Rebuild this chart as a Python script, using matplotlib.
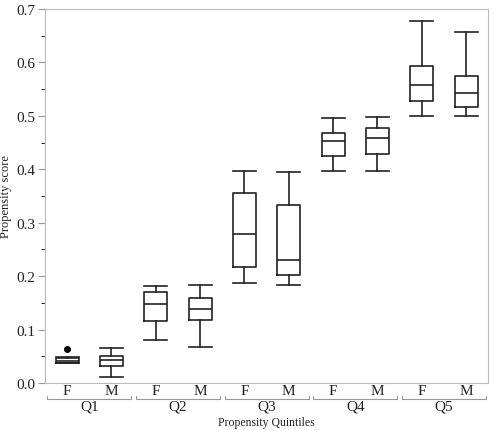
import numpy as np
import matplotlib
matplotlib.use('Agg')
import matplotlib.pyplot as plt
from matplotlib.lines import Line2D
from matplotlib.ticker import MultipleLocator

plt.rcParams['font.family'] = ['Liberation Serif', 'DejaVu Serif']

quintiles = ['Q1', 'Q2', 'Q3', 'Q4', 'Q5']
sexes = ['F', 'M']

# box stats per box, order Q1F, Q1M, Q2F, ...
whis_lo = [0.037, 0.012, 0.080, 0.068, 0.188, 0.184, 0.396, 0.396, 0.500, 0.500]
q1_vals = [0.038, 0.031, 0.116, 0.118, 0.217, 0.202, 0.424, 0.428, 0.528, 0.517]
medians = [0.041, 0.043, 0.147, 0.138, 0.278, 0.231, 0.453, 0.459, 0.557, 0.543]
q3_vals = [0.047, 0.050, 0.170, 0.159, 0.356, 0.333, 0.467, 0.478, 0.594, 0.575]
whis_hi = [0.048, 0.066, 0.181, 0.183, 0.396, 0.394, 0.496, 0.498, 0.677, 0.657]
outliers = [[0.064], [], [], [], [], [], [], [], [], []]

stats = []
for i in range(len(medians)):
    stats.append(dict(whislo=whis_lo[i], q1=q1_vals[i], med=medians[i],
                      q3=q3_vals[i], whishi=whis_hi[i], fliers=outliers[i]))

fig = plt.figure(figsize=(4.93, 4.31), dpi=100)
ax = fig.add_axes([0.0913, 0.109, 0.899, 0.868])

pos = np.arange(1, len(stats) + 1)
lc = '#222222'
ax.bxp(stats, positions=pos, widths=0.52, showfliers=True,
       boxprops=dict(color=lc, linewidth=1.2),
       medianprops=dict(color=lc, linewidth=1.2),
       whiskerprops=dict(color=lc, linewidth=1.2),
       capprops=dict(color=lc, linewidth=1.2),
       capwidths=0.52,
       flierprops=dict(marker='o', markerfacecolor='black', markeredgecolor='black', markersize=4))

ax.set_xlim(0.5, 10.5)
ax.set_ylim(0, 0.7)
ax.yaxis.set_major_locator(MultipleLocator(0.1))
ax.yaxis.set_minor_locator(MultipleLocator(0.05))
ax.set_yticklabels([f'{v:.1f}' for v in ax.get_yticks()])
ax.set_xticks(pos)
ax.set_xticklabels(sexes * len(quintiles))
ax.tick_params(axis='both', labelsize=11, colors='#999999', labelcolor='#222222')
ax.tick_params(axis='x', length=0, pad=1)
ax.tick_params(axis='y', which='major', length=5, pad=2)
ax.tick_params(axis='y', which='minor', length=3)
for sp in ax.spines.values():
    sp.set_color('#bbbbbb')

ax.set_ylabel('Propensity score', fontsize=9, color='#222222', labelpad=3)

# group brackets
trans = ax.get_xaxis_transform()
for k, q in enumerate(quintiles):
    x0 = 2 * k + 0.55
    x1 = 2 * k + 2.45
    yb = -0.043
    ax.add_line(Line2D([x0, x0, x1, x1], [yb + 0.007, yb, yb, yb + 0.007],
                       transform=trans, color='#999999', linewidth=0.8, clip_on=False))
    ax.text(2 * k + 1.5, yb - 0.0, q, transform=trans, ha='center', va='top',
            fontsize=11, color='#222222')

ax.text(5.5, -0.104, 'Propensity Quintiles', transform=trans, ha='center', va='center',
        fontsize=8.5, color='#222222')

fig.savefig('out.png', dpi=100)
